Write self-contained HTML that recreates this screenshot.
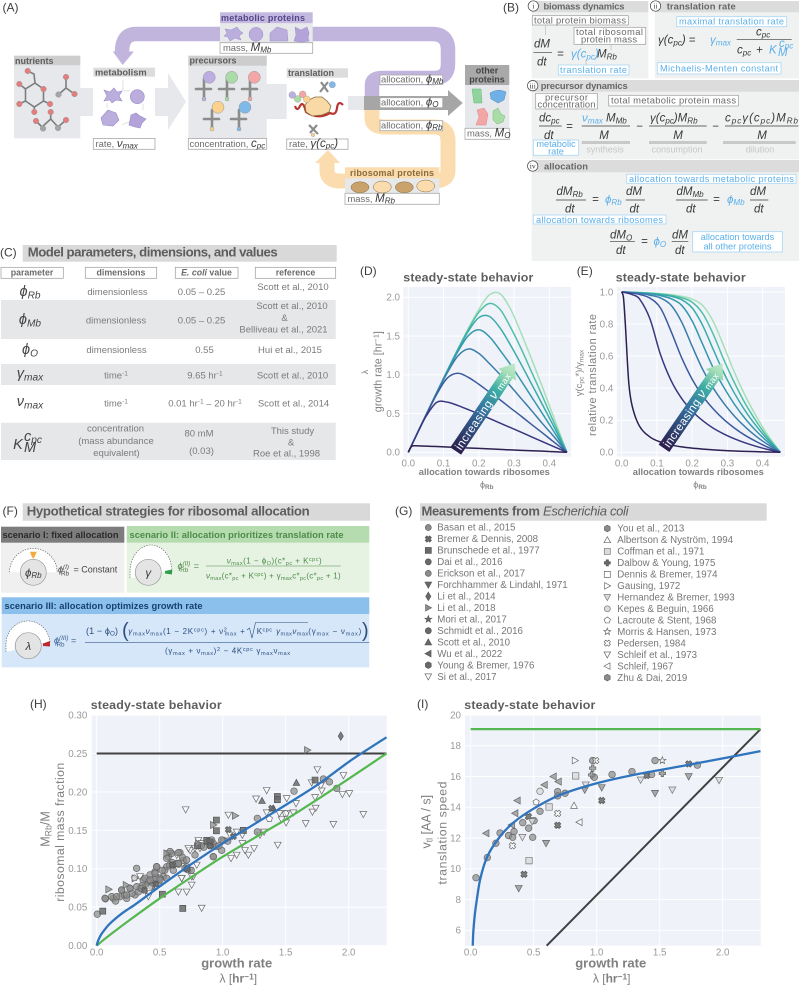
<!DOCTYPE html>
<html lang="en">
<head>
<meta charset="utf-8">
<title>Ribosomal allocation model figure</title>
<style>
html,body{margin:0;padding:0;background:#fff;width:799px;height:985px;overflow:hidden}
svg{display:block;font-family:"Liberation Sans",sans-serif}
.hd{font-weight:bold;fill:#5d5d5d}
.sec{font-weight:bold;font-size:9.4px;fill:#666}
.lab{font-size:9.4px;fill:#6b6b6b}
.blu{font-size:9.2px;fill:#5bb0ea}
.box{fill:#fff;stroke:#9c9c9c;stroke-width:.7}
.bbox{fill:#fff;stroke:#a9d6f4;stroke-width:.8}
.gbox{fill:#fff;stroke:#a8a8a8;stroke-width:.8}
.m{font-style:italic;fill:#3a3a3a;font-size:11.5px}
.mb{font-style:italic;fill:#5bb0ea;font-size:11.5px}
.s{font-size:70%}
.row{font-size:9.5px;fill:#7b7b7b;text-anchor:middle}
.par{font-style:italic;fill:#444;font-size:14.5px;text-anchor:middle}
.colh{font-size:8.8px;font-weight:bold;fill:#6b6b6b;text-anchor:middle}
.pl{font-size:12px;fill:#3d3d3d}
.fbar{stroke:#3a3a3a;stroke-width:.7}
.tick{font-size:9.8px;fill:#9a9a9a}
.ax{font-weight:bold;fill:#808080}
</style>
</head>
<body>
<svg id="figure" xmlns="http://www.w3.org/2000/svg" width="799" height="985" viewBox="0 0 799 985">
<defs>
<linearGradient id="arrowGradD" gradientUnits="userSpaceOnUse" x1="0" y1="0" x2="106" y2="0"><stop offset="0" stop-color="#2c1d4d"/><stop offset=".45" stop-color="#33709f"/><stop offset=".7" stop-color="#3fafa5"/><stop offset=".88" stop-color="#a6dfb8"/><stop offset="1" stop-color="#c3ead0"/></linearGradient>
</defs>

<!-- PANEL A -->
<g>
<text class="pl" x="2.5" y="11.5">(A)</text>
<path d="M80 88H93V116H80Z M155 88H168V73L186 101.7L168 130V116H155Z M266 84H287V119H266Z M348 96H372V110H348Z" fill="#e6e8eb"/>
<path d="M372 100V85Q372 78 382 78H434Q448 78 448 64V50Q448 34 432 34H136Q122 34 122 52" fill="none" stroke="#c1b5de" stroke-width="14.5"/>
<path d="M112.7 51.5H134L122.7 65Z" fill="#c1b5de"/>
<path d="M372 110V118Q372 127 385 127H434Q448 127 448 141V170Q448 181 434 181H340Q327 181 327 170V163" fill="none" stroke="#fbdcae" stroke-width="15"/>
<path d="M315 163H340L328 150Z" fill="#fbdcae"/>
<path d="M364 96H448V90L462.7 103L448 116V110H364Z" fill="#a6a6a6"/>

<g>
<rect x="14" y="55.7" width="66.3" height="82.6" fill="#e6e8eb"/><rect x="14" y="55.7" width="66.3" height="9.5" fill="#cdcdcd"/>
<text class="hd" x="15" y="64" font-size="9">nutrients</text>
<g fill="none" stroke="#7d7d7d" stroke-width="1.6">
<path d="M27.7 71L34 74L35 83L43.5 89L43.5 101L34.3 107L25.5 101L25.5 89L35 83"/><path d="M25.5 89L19.3 84M25.5 101L19.3 104M43.5 101L50 104M34.3 107V112"/>
<path d="M66 77V88L58.5 94.5M66 88L74.5 94"/><path d="M36 121L42 127L50.7 119L58 127L66 120M42 127L43 128.5M50.7 119V112"/>
</g>
<g fill="#e77c7c" stroke="#999" stroke-width=".5">
<circle cx="27.7" cy="71" r="2.8"/><circle cx="19.3" cy="84" r="2.8"/><circle cx="43.5" cy="89" r="2.8"/><circle cx="19.3" cy="104" r="2.8"/><circle cx="34.3" cy="112" r="2.8"/><circle cx="50" cy="104" r="2.8"/><circle cx="66" cy="77" r="2.8"/><circle cx="74.5" cy="94" r="2.8"/><circle cx="36" cy="121" r="2.8"/><circle cx="50.7" cy="112" r="2.8"/><circle cx="66" cy="120" r="2.8"/>
<circle cx="58.5" cy="94.5" r="2.8" fill="#a5a5a5"/><circle cx="43" cy="128.5" r="2.8" fill="#a5a5a5"/><circle cx="58" cy="128" r="2.8" fill="#a5a5a5"/>
</g>
</g>

<g>
<rect x="93.3" y="67.7" width="61.7" height="70.6" fill="#fff"/><rect x="93.3" y="67.7" width="61.7" height="9" fill="#dcdcdc"/>
<text class="hd" x="95" y="75.5" font-size="9.3">metabolism</text>
<g fill="none" stroke="#e2e2e2" stroke-width="1"><path d="M123 80V90Q125 92 130 90M143 104V110M122 125Q126 122 132 122M107 108V103"/></g>
<path d="M104 90L110 92L114 88L117 92L122 91L119 96L122 101L116 100L112 103L110 100L104 101L107 96Z" fill="#bbaedd" stroke="#9a8ccb" stroke-width=".6"/>
<circle cx="137.3" cy="96.7" r="7" fill="#bbaedd" stroke="#9a8ccb" stroke-width=".6"/>
<path d="M101 118L108 110L116 113L119 120L113 126L103 125Z" fill="#bbaedd" stroke="#9a8ccb" stroke-width=".6"/>
<path d="M131 115L136 113L140 116L146 119L142 123L140 128L135 127L129 125L130 120Z" fill="#b3a3d8" stroke="#9a8ccb" stroke-width=".6"/>
<rect class="gbox" x="93.3" y="138.5" width="61.7" height="10.8"/>
<text class="lab" x="95.5" y="147">rate, <tspan class="m" font-size="10">ν<tspan class="s" dy="1.5">max</tspan></tspan></text>
</g>

<g>
<rect x="188.3" y="55.7" width="78.4" height="82.6" fill="#e6e8eb"/><rect x="188.3" y="55.7" width="78.4" height="10" fill="#cdcdcd"/>
<text class="hd" x="189.5" y="63.5" font-size="9">precursors</text>
<g stroke="#8c8c8c" stroke-width="2.6" stroke-linecap="round" fill="none">
<path d="M204 79V98M196 89H211"/><path d="M227 79V98M219 89H234"/><path d="M250 79V98M242 89H257"/><path d="M212 110V128M204 119H219"/><path d="M239 110V128M231 119H246"/>
</g>
<g stroke="#999" stroke-width=".5">
<circle cx="209.3" cy="77.3" r="6" fill="#bcaee0"/><circle cx="231.7" cy="77.3" r="6" fill="#a9dca6"/><circle cx="254.3" cy="77.3" r="6" fill="#f2a6a6"/><circle cx="218" cy="107.3" r="6" fill="#fbd18e"/><circle cx="245" cy="107.3" r="6" fill="#7fb9ea"/>
<circle cx="204" cy="99" r="2" fill="#bcaee0"/><circle cx="227" cy="99" r="2" fill="#a9dca6"/><circle cx="250" cy="99" r="2" fill="#f2a6a6"/><circle cx="212" cy="129" r="2" fill="#fbd18e"/><circle cx="239" cy="129" r="2" fill="#7fb9ea"/>
</g>
<rect class="gbox" x="188.3" y="138.5" width="78.4" height="10.8"/>
<text class="lab" x="189.5" y="147">concentration, <tspan class="m" font-size="9.5">c<tspan class="s" dy="1.5">pc</tspan></tspan></text>
</g>

<g>
<rect x="286.7" y="68.3" width="61.3" height="70" fill="#fff"/><rect x="286.7" y="68.3" width="61.3" height="9.4" fill="#dcdcdc"/>
<text class="hd" x="288" y="76" font-size="9">translation</text>
<path d="M295 106Q297 112 300 106T306 112Q318 120 330 113Q336 116 337 108T343 105" fill="none" stroke="#b8352f" stroke-width="2.2"/>
<path d="M305 105L309 100L315 97L322 97L327 101L331 106L329 112L322 115L312 116L306 112Z" fill="#f9d9a6" stroke="#8a6d3b" stroke-width=".8"/>
<g fill="none" stroke="#8c8c8c" stroke-width="2.2"><path d="M321 82L328 92M328 82L320 92"/><path d="M309 125L318 134M317 125L310 133"/></g>
<g stroke="#999" stroke-width=".4"><circle cx="292.3" cy="95" r="3.4" fill="#bcaee0"/><circle cx="297.7" cy="99" r="3.4" fill="#a9dca6"/><circle cx="302.7" cy="94.3" r="3.4" fill="#f2a6a6"/><circle cx="306.7" cy="99.3" r="3.4" fill="#fbd18e"/><circle cx="332.3" cy="84.7" r="3.2" fill="#7fb9ea"/><circle cx="313" cy="135" r="1.8" fill="#fbd18e"/></g>
<rect class="gbox" x="286.7" y="139" width="61.3" height="10.3"/>
<text class="lab" x="289" y="147">rate, <tspan class="m" font-size="9.5">γ(c<tspan class="s" dy="1.5">pc</tspan><tspan dy="-1.5">)</tspan></tspan></text>
</g>

<g>
<rect x="220" y="12.3" width="92.7" height="11" fill="#c3b8df"/><rect x="220" y="23.3" width="92.7" height="19.4" fill="#e7e8ea"/>
<text x="221" y="21" font-size="9" font-weight="bold" fill="#56468a" textLength="84">metabolic proteins</text>
<path d="M225 29L231 30L237 27L240 31L243 33L239 36L241 40L235 38L230 41L228 37L224 36L227 33Z" fill="#bbaedd" stroke="#9a8ccb" stroke-width=".5"/>
<circle cx="256" cy="34.3" r="7" fill="#bbaedd" stroke="#9a8ccb" stroke-width=".5"/>
<path d="M270 41V33L277 27L287 30L288 41Z" fill="#bbaedd" stroke="#9a8ccb" stroke-width=".5"/>
<path d="M295 27L301 30L307 27L309 33L308 38L309 41L301 42L294 41L296 35Z" fill="#b3a3d8" stroke="#9a8ccb" stroke-width=".5"/>
<rect class="gbox" x="220" y="42.7" width="92.7" height="10.6"/>
<text class="lab" x="223" y="51">mass, <tspan class="m" font-size="9.5">M<tspan class="s" dy="1.5">Mb</tspan></tspan></text>
</g>

<g>
<rect x="345" y="167.3" width="94.3" height="11" fill="#fbdcae"/><rect x="345" y="178.3" width="94.3" height="15" fill="#e7e8ea"/>
<text x="350" y="176" font-size="9" font-weight="bold" fill="#8a6d3b" textLength="84">ribosomal proteins</text>
<ellipse cx="360" cy="187.3" rx="9" ry="5.5" fill="#c9a36b" stroke="#8a6d3b" stroke-width=".5"/>
<ellipse cx="382.3" cy="187" rx="9" ry="6" fill="#fbdcae" stroke="#8a6d3b" stroke-width=".5"/>
<ellipse cx="404.3" cy="187.3" rx="9" ry="5.5" fill="#c9a36b" stroke="#8a6d3b" stroke-width=".5"/>
<ellipse cx="425.7" cy="186" rx="9" ry="6" fill="#fbdcae" stroke="#8a6d3b" stroke-width=".5"/>
<rect class="gbox" x="345" y="193.3" width="94.3" height="11"/>
<text class="lab" x="347.5" y="202">mass, <tspan class="m" font-size="9.5">M<tspan class="s" dy="1.5">Rb</tspan></tspan></text>
</g>

<g>
<rect x="465" y="65" width="44.3" height="20" fill="#a9a9a9"/><rect x="465" y="85" width="44.3" height="43" fill="#e6e8eb"/>
<text x="487" y="73.5" font-size="9" font-weight="bold" fill="#444" text-anchor="middle">other</text>
<text x="487" y="82.5" font-size="9" font-weight="bold" fill="#444" text-anchor="middle">proteins</text>
<path d="M472 89H481L482 103H474Z" fill="#8fd49c" stroke="#6bb87a" stroke-width=".5"/>
<path d="M490 93Q498 88 506 92L504 100L498 103L491 99Z" fill="#6fb1e6" stroke="#4f8fc4" stroke-width=".5"/>
<path d="M477 110L484 108L488 114L486 125H476L479 117Z" fill="#f2a6a6" stroke="#d88" stroke-width=".5"/>
<path d="M493 111L498 108L501 114L505 116L503 122L497 124L493 120Z" fill="#a9dca6" stroke="#7cbb7a" stroke-width=".5"/>
<rect class="gbox" x="465" y="128.3" width="44.3" height="11"/>
<text class="lab" x="467" y="136.7">mass, <tspan class="m" font-size="9.5">M<tspan class="s" dy="1.5">O</tspan></tspan></text>
</g>

<g>
<rect class="gbox" x="380" y="75" width="62.7" height="9.4"/><text class="lab" x="381" y="82.5">allocation, <tspan class="m" font-size="9">ϕ<tspan class="s" dy="1.5">Mb</tspan></tspan></text>
<rect class="gbox" x="380" y="97.7" width="62.7" height="10"/><text class="lab" x="381" y="105.5">allocation, <tspan class="m" font-size="9">ϕ<tspan class="s" dy="1.5">O</tspan></tspan></text>
<rect class="gbox" x="380" y="120.7" width="62.7" height="10"/><text class="lab" x="381" y="128.5">allocation, <tspan class="m" font-size="9">ϕ<tspan class="s" dy="1.5">Rb</tspan></tspan></text>
</g>
</g>

<!-- PANEL B -->
<g>
<text class="pl" x="503" y="11.5">(B)</text>
<g fill="#f0f1f1">
<rect x="531.7" y="1" width="116.6" height="77.3"/><rect x="655" y="1" width="144" height="77.3"/><rect x="531.7" y="80" width="267.3" height="79.3"/><rect x="531.7" y="160" width="267.3" height="101"/>
</g>
<g fill="#dcdcdc">
<rect x="531.7" y="1" width="116.6" height="11.3"/><rect x="655" y="1" width="144" height="11.3"/><rect x="531.7" y="80" width="267.3" height="11.7"/><rect x="531.7" y="160" width="267.3" height="12.3"/>
</g>
<g fill="#fff" stroke="#444" stroke-width=".7">
<circle cx="533.3" cy="6" r="5.2"/><circle cx="655.5" cy="6" r="5.2"/><circle cx="532.7" cy="85.7" r="5.2"/><circle cx="532.7" cy="166" r="5.2"/>
</g>
<g font-size="7.5" fill="#333" text-anchor="middle" font-family="Liberation Serif, serif">
<text x="533.3" y="8.6">i</text><text x="655.5" y="8.6">ii</text><text x="532.7" y="88.3">iii</text><text x="532.7" y="168.6">iv</text>
</g>
<text class="sec" x="543.5" y="9.5" textLength="81">biomass dynamics</text>
<text class="sec" x="666.7" y="9.5" textLength="69">translation rate</text>
<text class="sec" x="540.7" y="89" textLength="87">precursor dynamics</text>
<text class="sec" x="544" y="169.5" textLength="44">allocation</text>

<g>
<rect class="box" x="532.3" y="15.7" width="96" height="9.3"/><text class="lab" x="534" y="23.4" textLength="92">total protein biomass</text>
<rect class="box" x="574" y="27.3" width="71.7" height="17"/><text class="lab" x="576" y="35" textLength="67">total ribosomal</text><text class="lab" x="581" y="42.5" textLength="56">protein mass</text>
<path d="M545.5 25V35M611 44V50M586 60V66" stroke="#bdbdbd" stroke-width=".7" fill="none"/>
<text class="m" x="534" y="47.5" font-size="12">dM</text><line class="fbar" x1="533.5" y1="52.7" x2="552" y2="52.7"/><text class="m" x="537" y="65.5" font-size="12">dt</text>
<text class="m" x="557" y="57.5" font-size="12" font-style="normal">=</text>
<text class="mb" x="571" y="57.5" font-size="12">γ(c<tspan class="s" dy="2">pc</tspan><tspan dy="-2">)</tspan></text>
<text class="m" x="597" y="57.5" font-size="12">M<tspan class="s" dy="2">Rb</tspan></text>
<rect class="bbox" x="558.3" y="65" width="70.7" height="10"/><text class="blu" x="560" y="73" textLength="67">translation rate</text>
</g>

<g>
<rect class="bbox" x="676.7" y="16.7" width="110" height="10"/><text class="blu" x="679" y="24.7" textLength="105">maximal translation rate</text>
<text class="m" x="658" y="43.5" font-size="12.5">γ(c<tspan class="s" dy="2">pc</tspan><tspan dy="-2">)</tspan> <tspan font-style="normal">=</tspan></text>
<text class="mb" x="710" y="43.5" font-size="12">γ<tspan class="s" dy="2">max</tspan></text>
<text class="m" x="756" y="35.5" font-size="12">c<tspan class="s" dy="2">pc</tspan></text>
<line class="fbar" x1="736.7" y1="39.3" x2="791.7" y2="39.3"/>
<text class="m" x="737" y="53.5" font-size="12">c<tspan class="s" dy="2">pc</tspan></text>
<text class="m" x="756" y="53.5" font-size="12" font-style="normal">+</text>
<text class="mb" x="769" y="53.5" font-size="12">K</text>
<text class="mb" x="779" y="47" font-size="7.5">c<tspan class="s" dy="1.5">pc</tspan></text>
<text class="mb" x="778" y="56" font-size="8">M</text>
<rect class="bbox" x="657.3" y="62.7" width="123.7" height="11.3"/><text class="blu" x="660" y="71.5" textLength="118">Michaelis-Menten constant</text>
</g>

<g>
<rect class="box" x="535.7" y="93.3" width="61.6" height="15.7"/><text class="lab" x="545" y="100.3" textLength="43">precursor</text><text class="lab" x="537.5" y="107.5" textLength="58">concentration</text>
<rect class="box" x="608.7" y="95.3" width="129.6" height="10.7"/><text class="lab" x="611" y="103.7" textLength="125">total metabolic protein mass</text>
<text class="m" x="539" y="121.7" font-size="12">dc<tspan class="s" dy="2">pc</tspan></text><line class="fbar" x1="539" y1="126" x2="561.7" y2="126"/><text class="m" x="544" y="139" font-size="12">dt</text>
<text class="m" x="566" y="130" font-size="12" font-style="normal">=</text>
<text class="mb" x="582" y="121.7" font-size="12">ν<tspan class="s" dy="2">max</tspan></text>
<text class="m" x="606" y="121.7" font-size="12">M<tspan class="s" dy="2">Mb</tspan></text>
<line class="fbar" x1="581.7" y1="126" x2="630" y2="126"/><text class="m" x="604" y="139" font-size="12" text-anchor="middle">M</text>
<text class="m" x="636" y="130" font-size="12" font-style="normal">−</text>
<text class="m" x="650" y="121.7" font-size="12">γ(c<tspan class="s" dy="2">pc</tspan><tspan dy="-2">)M</tspan><tspan class="s" dy="2">Rb</tspan></text>
<line class="fbar" x1="649" y1="126" x2="706.7" y2="126"/><text class="m" x="678" y="139" font-size="12" text-anchor="middle">M</text>
<text class="m" x="712" y="130" font-size="12" font-style="normal">−</text>
<text class="m" x="725" y="121.7" font-size="12" textLength="73">c<tspan class="s" dy="2">pc</tspan><tspan dy="-2">γ(c</tspan><tspan class="s" dy="2">pc</tspan><tspan dy="-2">)M</tspan><tspan class="s" dy="2">Rb</tspan></text>
<line class="fbar" x1="725" y1="126" x2="798.3" y2="126"/><text class="m" x="762" y="139" font-size="12" text-anchor="middle">M</text>
<path d="M581.7 142.5H630M649 142.5H706.7M723 142.5H795.7" stroke="#c8c8c8" stroke-width="3"/>
<g font-size="9" fill="#c6c6c6" text-anchor="middle"><text x="605" y="152.7">synthesis</text><text x="677" y="152.7">consumption</text><text x="760" y="152.7">dilution</text></g>
<rect class="bbox" x="533.3" y="140" width="45.4" height="15.3"/><text class="blu" x="556" y="147" text-anchor="middle">metabolic</text><text class="blu" x="556" y="154.3" text-anchor="middle">rate</text>
</g>

<g>
<rect class="bbox" x="626.7" y="174.3" width="169.3" height="9"/><text class="blu" x="629" y="182" textLength="165">allocation towards metabolic proteins</text>
<text class="m" x="556.5" y="195" font-size="12">dM<tspan class="s" dy="2">Rb</tspan></text><line class="fbar" x1="556" y1="200" x2="586" y2="200"/><text class="m" x="565" y="212.3" font-size="12">dt</text>
<text class="m" x="592" y="203" font-size="12" font-style="normal">=</text>
<text class="mb" x="605" y="203" font-size="12">ϕ<tspan class="s" dy="2">Rb</tspan></text>
<text class="m" x="626" y="195" font-size="12">dM</text><line class="fbar" x1="625.7" y1="200" x2="645" y2="200"/><text class="m" x="629.5" y="212.3" font-size="12">dt</text>
<text class="m" x="676.5" y="195" font-size="12">dM<tspan class="s" dy="2">Mb</tspan></text><line class="fbar" x1="676" y1="200" x2="707.7" y2="200"/><text class="m" x="686" y="212.3" font-size="12">dt</text>
<text class="m" x="713" y="203" font-size="12" font-style="normal">=</text>
<text class="mb" x="727" y="203" font-size="12">ϕ<tspan class="s" dy="2">Mb</tspan></text>
<text class="m" x="750" y="195" font-size="12">dM</text><line class="fbar" x1="750" y1="200" x2="768.3" y2="200"/><text class="m" x="754" y="212.3" font-size="12">dt</text>
<rect class="bbox" x="533.3" y="215" width="132.7" height="9"/><text class="blu" x="536" y="222.8" textLength="127">allocation towards ribosomes</text>
<text class="m" x="610" y="238.3" font-size="12">dM<tspan class="s" dy="2">O</tspan></text><line class="fbar" x1="610" y1="241.7" x2="635" y2="241.7"/><text class="m" x="616" y="254" font-size="12">dt</text>
<text class="m" x="641" y="245" font-size="12" font-style="normal">=</text>
<text class="mb" x="653.5" y="245" font-size="12">ϕ<tspan class="s" dy="2">O</tspan></text>
<text class="m" x="672" y="238.3" font-size="12">dM</text><line class="fbar" x1="671.7" y1="241.7" x2="688.3" y2="241.7"/><text class="m" x="675" y="254" font-size="12">dt</text>
<rect class="bbox" x="692.7" y="231.7" width="89.6" height="20.3"/><text class="blu" x="737.5" y="240" text-anchor="middle">allocation towards</text><text class="blu" x="737.5" y="249.5" text-anchor="middle">all other proteins</text>
</g>
</g>

<!-- PANEL C -->
<g>
<text class="pl" x="0" y="256.7">(C)</text>
<rect x="22.7" y="245" width="314" height="16.7" fill="#d9d9d9"/>
<text class="hd" x="27.7" y="256.7" font-size="13.2" textLength="250">Model parameters, dimensions, and values</text>
<g fill="#e6e7e8"><rect x="1" y="300" width="334.7" height="39"/><rect x="1" y="364" width="334.7" height="21"/><rect x="1" y="422.7" width="334.7" height="37.3"/></g>
<g>
<rect class="box" x="1" y="267.3" width="62.3" height="11"/><text class="colh" x="32" y="275.5">parameter</text>
<rect class="box" x="85.3" y="267.3" width="71.4" height="11"/><text class="colh" x="121" y="275.5">dimensions</text>
<rect class="box" x="175.3" y="267.3" width="62.7" height="11"/><text class="colh" x="206.5" y="275.5"><tspan font-style="italic">E. coli</tspan> value</text>
<rect class="box" x="255.3" y="267.3" width="80.4" height="11"/><text class="colh" x="295.5" y="275.5">reference</text>
</g>
<g>
<text class="par" x="30" y="296">ϕ<tspan class="s" dy="2.5">Rb</tspan></text>
<text class="par" x="30" y="324">ϕ<tspan class="s" dy="2.5">Mb</tspan></text>
<text class="par" x="30" y="354">ϕ<tspan class="s" dy="2.5">O</tspan></text>
<text class="par" x="30" y="378">γ<tspan class="s" dy="2.5">max</tspan></text>
<text class="par" x="30" y="406">ν<tspan class="s" dy="2.5">max</tspan></text>
<text class="par" x="18" y="449" font-size="16">K</text><text class="par" x="33" y="441" font-size="10">c<tspan class="s" dy="2">pc</tspan></text><text class="par" x="30" y="452" font-size="10">M</text>
</g>
<g>
<text class="row" x="117.5" y="295">dimensionless</text><text class="row" x="116" y="323.5">dimensionless</text><text class="row" x="116.5" y="353">dimensionless</text>
<text class="row" x="116" y="378.5">time<tspan class="s" dy="-3">-1</tspan></text><text class="row" x="116" y="406.5">time<tspan class="s" dy="-3">-1</tspan></text>
<text class="row" x="115.5" y="431.7">concentration</text><text class="row" x="116" y="444">(mass abundance</text><text class="row" x="116.5" y="456">equivalent)</text>
</g>
<g>
<text class="row" x="201.5" y="295">0.05 – 0.25</text><text class="row" x="201.5" y="323.5">0.05 – 0.25</text><text class="row" x="204.5" y="353">0.55</text>
<text class="row" x="205" y="378.5">9.65 hr<tspan class="s" dy="-3">-1</tspan></text>
<text class="row" x="205" y="406.5">0.01 hr<tspan class="s" dy="-3">-1</tspan><tspan dy="3"> – 20 hr</tspan><tspan class="s" dy="-3">-1</tspan></text>
<text class="row" x="199" y="436.7">80 mM</text><text class="row" x="201.5" y="454">(0.03)</text>
</g>
<g>
<text class="row" x="293" y="290">Scott et al., 2010</text><text class="row" x="292" y="309">Scott et al., 2010</text><text class="row" x="284.5" y="321">&amp;</text><text class="row" x="283.5" y="332.7">Belliveau et al., 2021</text>
<text class="row" x="290" y="353">Hui et al., 2015</text><text class="row" x="292.5" y="378.5">Scott et al., 2010</text><text class="row" x="293.5" y="406.5">Scott et al., 2014</text>
<text class="row" x="292.5" y="434">This study</text><text class="row" x="291" y="445.7">&amp;</text><text class="row" x="286.5" y="456.7">Roe et al., 1998</text>
</g>
</g>

<!-- PANEL D / E -->
<g>
<text class="pl" x="360" y="275">(D)</text>
<text class="hd" x="403.3" y="281.7" font-size="12.4" textLength="130">steady-state behavior</text>
<g id="plotD"></g>
<g transform="translate(455.7,451) rotate(-56)">
<polygon points="0,-6.5 92,-6.5 92,-10.5 106,0 92,10.5 92,6.5 0,6.5" fill="url(#arrowGradD)"/>
<text x="3" y="4.2" font-size="11.5" fill="#fff" textLength="90">increasing <tspan font-style="italic" font-size="13">ν</tspan> <tspan font-size="9">max</tspan></text>
</g>
<text class="ax" x="484.3" y="475" font-size="9.3" text-anchor="middle" textLength="131">allocation towards ribosomes</text>
<text x="486.7" y="487.3" font-size="9" fill="#808080" text-anchor="middle">ϕ<tspan class="s" dy="1.5" font-weight="bold">Rb</tspan></text>
<text class="ax" transform="translate(381.7,371.7) rotate(-90)" font-size="10.8" text-anchor="middle" style="font-weight:normal">growth rate [hr<tspan class="s" dy="-3">−1</tspan><tspan dy="3">]</tspan></text>
<text transform="translate(368,372) rotate(-90)" font-size="9" fill="#808080" text-anchor="middle">λ</text>
</g>
<g>
<text class="pl" x="576.7" y="275">(E)</text>
<text class="hd" x="615.7" y="281.7" font-size="12.4" textLength="130">steady-state behavior</text>
<g id="plotE"></g>
<g transform="translate(664,448.3) rotate(-55.4)">
<polygon points="0,-6.5 89,-6.5 89,-10.5 103,0 89,10.5 89,6.5 0,6.5" fill="url(#arrowGradD)"/>
<text x="3" y="4.2" font-size="11.5" fill="#fff" textLength="88">increasing <tspan font-style="italic" font-size="13">ν</tspan> <tspan font-size="9">max</tspan></text>
</g>
<text class="ax" x="698.3" y="475" font-size="9.3" text-anchor="middle" textLength="131">allocation towards ribosomes</text>
<text x="700" y="487.3" font-size="9" fill="#808080" text-anchor="middle">ϕ<tspan class="s" dy="1.5" font-weight="bold">Rb</tspan></text>
<text class="ax" transform="translate(596,375) rotate(-90)" font-size="11" text-anchor="middle" textLength="122" style="font-weight:normal">relative translation rate</text>
<text transform="translate(582,373) rotate(-90)" font-size="9.5" fill="#808080" text-anchor="middle">γ(c<tspan class="s" dy="1.5">pc</tspan><tspan dy="-1.5">*)/γ</tspan><tspan class="s" dy="1.5">max</tspan></text>
</g>

<!-- PANEL F -->
<g>
<text class="pl" x="2.5" y="515">(F)</text>
<rect x="22.7" y="503.3" width="347.3" height="17.4" fill="#d9d9d9"/>
<text class="hd" x="26.7" y="515.7" font-size="13.2" textLength="283">Hypothetical strategies for ribosomal allocation</text>
<g>
<rect x="1" y="542.7" width="123.3" height="50" fill="#f0f0f0"/><rect x="1" y="526.7" width="123.3" height="16" fill="#7d7d7d"/>
<text x="2.5" y="538" font-size="9.3" font-weight="bold" fill="#2a2a2a" textLength="116">scenario I: fixed allocation</text>
<path d="M9.5 572.3A23.8 23.8 0 0 1 57.1 572.3H46.3A13 13 0 0 0 20.3 572.3Z" fill="#fff"/><path d="M9.5 572.3A23.8 23.8 0 0 1 57.1 572.3" fill="none" stroke="#555" stroke-width=".6" stroke-dasharray="1.4 1.2"/>
<circle cx="33.3" cy="572.3" r="13" fill="#e4e4e4" stroke="#9a9a9a" stroke-width=".7"/>
<path d="M30 551.7H36.7L35 556L33.3 559L31.5 556Z" fill="#f4ab3e"/>
<text class="m" x="33.3" y="576.5" text-anchor="middle" font-size="11">ϕ<tspan class="s" dy="1.5">Rb</tspan></text>
<text x="58" y="572.5" font-size="9" fill="#444"><tspan font-style="italic">ϕ</tspan><tspan class="s" dy="-3.5" font-style="italic">(I)</tspan><tspan class="s" dx="-8" dy="6.5">Rb</tspan><tspan dy="-3" dx="2"> = Constant</tspan></text>
</g>
<g>
<rect x="126.7" y="542.7" width="242.6" height="50" fill="#e6f3e2"/><rect x="126.7" y="526" width="242.6" height="16.7" fill="#b5dcae"/>
<text x="129.5" y="538" font-size="9.3" font-weight="bold" fill="#4e8a4a" textLength="214">scenario II: allocation prioritizes translation rate</text>
<path d="M130 578V572A18.5 23.8 0 0 1 172 572H161.3A13 13 0 0 0 135 578Z" fill="#fff"/><path d="M130 578V572A18.5 23.8 0 0 1 172 572" fill="none" stroke="#555" stroke-width=".6" stroke-dasharray="1.4 1.2"/>
<circle cx="148.3" cy="572.3" r="13" fill="#e4e4e4" stroke="#9a9a9a" stroke-width=".7"/>
<path d="M165 571L172 569.5V574.5L165 573.5Z" fill="#2f9e44"/>
<text class="m" x="148.3" y="576.5" text-anchor="middle" font-size="13">γ</text>
<text x="177.5" y="569" font-size="9" fill="#4e8a4a" font-style="italic">ϕ<tspan class="s" dy="-3.5">(II)</tspan><tspan class="s" dx="-10" dy="6.5" font-style="normal">Rb</tspan><tspan dy="-3" dx="3" font-style="normal"> =</tspan></text>
<line x1="206" y1="566" x2="340.7" y2="566" stroke="#4e8a4a" stroke-width=".6"/>
<text x="226.7" y="563.3" font-size="8" fill="#4e8a4a" textLength="95"><tspan font-style="italic">ν</tspan><tspan class="s" dy="1.5">max</tspan><tspan dy="-1.5">(1 − ϕ</tspan><tspan class="s" dy="1.5">O</tspan><tspan dy="-1.5">)(c*</tspan><tspan class="s" dy="1.5">pc</tspan><tspan dy="-1.5"> + K</tspan><tspan class="s" dy="-2.5">cpc</tspan><tspan dy="2.5">)</tspan></text>
<text x="206" y="578.3" font-size="8" fill="#4e8a4a" textLength="134.7"><tspan font-style="italic">ν</tspan><tspan class="s" dy="1.5">max</tspan><tspan dy="-1.5">(c*</tspan><tspan class="s" dy="1.5">pc</tspan><tspan dy="-1.5"> + K</tspan><tspan class="s" dy="-2.5">cpc</tspan><tspan dy="2.5">) + γ</tspan><tspan class="s" dy="1.5">max</tspan><tspan dy="-1.5">c*</tspan><tspan class="s" dy="1.5">pc</tspan><tspan dy="-1.5">(c*</tspan><tspan class="s" dy="1.5">pc</tspan><tspan dy="-1.5"> + 1)</tspan></text>
</g>
<g>
<rect x="1.7" y="614" width="367.6" height="53.3" fill="#d5e7f8"/><rect x="1.7" y="597.3" width="367.6" height="16.7" fill="#8cc0ec"/>
<text x="4.5" y="609" font-size="9.3" font-weight="bold" fill="#17406e" textLength="198">scenario III: allocation optimizes growth rate</text>
<path d="M6 652V645A22 23 0 0 1 50 643H41A13 13 0 0 0 15 650Z" fill="#fff"/><path d="M6 652V645A22 23 0 0 1 50 643" fill="none" stroke="#555" stroke-width=".6" stroke-dasharray="1.4 1.2"/>
<circle cx="28.3" cy="645.7" r="13" fill="#e4e4e4" stroke="#9a9a9a" stroke-width=".7"/>
<path d="M43 643.5L50 641V646.5L43 646Z" fill="#c0292b"/>
<text class="m" x="28.3" y="650" text-anchor="middle" font-size="13">λ</text>
<text x="54" y="643.3" font-size="9" fill="#3a5d8f" font-style="italic">ϕ<tspan class="s" dy="-3.5">(III)</tspan><tspan class="s" dx="-12" dy="6.5" font-style="normal">Rb</tspan><tspan dy="-3" dx="4" font-style="normal"> =</tspan></text>
<line x1="85" y1="642.7" x2="369.3" y2="642.7" stroke="#3a5d8f" stroke-width=".6"/>
<g font-size="8" fill="#2f4f80">
<text x="86" y="634" font-size="9" textLength="32">(1 − ϕ<tspan class="s" dy="1.5">O</tspan><tspan dy="-1.5">)</tspan></text>
<text x="122" y="637" font-size="20" font-weight="normal">(</text>
<text x="128.3" y="634" textLength="116.5"><tspan font-style="italic">γ</tspan><tspan class="s" dy="1.5">max</tspan><tspan dy="-1.5" font-style="italic">ν</tspan><tspan class="s" dy="1.5">max</tspan><tspan dy="-1.5">(1 − 2K</tspan><tspan class="s" dy="-2.5">cpc</tspan><tspan dy="2.5">) + ν</tspan><tspan class="s" dy="-2.5">2</tspan><tspan class="s" dy="4" dx="-3">max</tspan><tspan dy="-1.5"> +</tspan></text>
<path d="M247 630L249.5 628L252 638L255.5 622.5H308" fill="none" stroke="#2f4f80" stroke-width=".6"/>
<text x="256.7" y="634" textLength="51.5">K<tspan class="s" dy="-2.5">cpc</tspan><tspan dy="2.5" dx="1" font-style="italic"> γ</tspan><tspan class="s" dy="1.5">max</tspan><tspan dy="-1.5" font-style="italic">ν</tspan><tspan class="s" dy="1.5">max</tspan></text>
<text x="308.3" y="634" textLength="53">(γ<tspan class="s" dy="1.5">max</tspan><tspan dy="-1.5"> − ν</tspan><tspan class="s" dy="1.5">max</tspan><tspan dy="-1.5">)</tspan></text>
<text x="362" y="637" font-size="20">)</text>
<text x="165" y="653.3" textLength="125">(γ<tspan class="s" dy="1.5">max</tspan><tspan dy="-1.5"> + ν</tspan><tspan class="s" dy="1.5">max</tspan><tspan dy="-1.5">)</tspan><tspan class="s" dy="-2.5">2</tspan><tspan dy="2.5"> − 4K</tspan><tspan class="s" dy="-2.5">cpc</tspan><tspan dy="2.5"> γ</tspan><tspan class="s" dy="1.5">max</tspan><tspan dy="-1.5">ν</tspan><tspan class="s" dy="1.5">max</tspan></text>
</g>
</g>
</g>

<!-- PANEL G -->
<g>
<text class="pl" x="395" y="515">(G)</text>
<rect x="420" y="503.3" width="346.7" height="17.4" fill="#d9d9d9"/>
<text class="hd" x="421.5" y="515.7" font-size="13" textLength="207">Measurements from <tspan font-style="italic" font-weight="normal">Escherichia coli</tspan></text>
<g id="legendG"></g>
</g>

<!-- PANEL H -->
<g>
<text class="pl" x="30" y="708">(H)</text>
<text class="hd" x="90.7" y="709" font-size="12.4" textLength="131">steady-state behavior</text>
<g id="plotH"></g>
<text class="ax" x="236.7" y="967.3" font-size="13" text-anchor="middle" textLength="71">growth rate</text>
<text x="238.3" y="982.5" font-size="12" fill="#808080" text-anchor="middle">λ [<tspan font-weight="bold">hr<tspan class="s" dy="-3">−1</tspan></tspan><tspan dy="3">]</tspan></text>
<text class="ax" transform="translate(64,832.3) rotate(-90)" font-size="12.3" text-anchor="middle" textLength="139" style="font-weight:normal">ribosomal mass fraction</text>
<text transform="translate(49.3,829) rotate(-90)" font-size="12.5" fill="#808080" text-anchor="middle">M<tspan class="s" dy="2">Rb</tspan><tspan dy="-2">/M</tspan></text>
</g>

<!-- PANEL I -->
<g>
<text class="pl" x="417" y="708">(I)</text>
<text class="hd" x="464.3" y="709" font-size="12.4" textLength="131">steady-state behavior</text>
<g id="plotI"></g>
<text class="ax" x="610.7" y="967.3" font-size="13" text-anchor="middle" textLength="71">growth rate</text>
<text x="611.7" y="982.5" font-size="12" fill="#808080" text-anchor="middle">λ [<tspan font-weight="bold">hr<tspan class="s" dy="-3">−1</tspan></tspan><tspan dy="3">]</tspan></text>
<text class="ax" transform="translate(446.7,833) rotate(-90)" font-size="12.3" text-anchor="middle" textLength="103" style="font-weight:normal">translation speed</text>
<text transform="translate(430.7,821.7) rotate(-90)" font-size="12.5" fill="#808080" text-anchor="middle">v<tspan class="s" dy="2">tl</tspan><tspan dy="-2"> [AA / s]</tspan></text>
</g>
</svg>

<script>
// ---- Panels D & E data: allocation grid and one array per nu_max curve ----
const phiRb = [0,.005,.01,.02,.03,.05,.08,.11,.14,.17,.2,.23,.26,.29,.32,.35,.38,.41,.45];
const growth1 = [0,.046,.078,.084,.083,.08,.074,.068,.062,.056,.05,.044,.038,.031,.025,.02,.015,.008,0];
const growth2 = [0,.048,.096,.191,.285,.462,.643,.648,.605,.551,.496,.437,.377,.319,.26,.199,.139,.079,0];
const growth3 = [0,.048,.096,.192,.288,.475,.743,.955,1.02,.968,.878,.777,.678,.571,.467,.358,.253,.143,0];
const growth4 = [0,.048,.097,.192,.289,.478,.757,1.022,1.24,1.333,1.276,1.146,1.004,.854,.695,.537,.374,.218,0];
const growth5 = [0,.048,.097,.193,.29,.48,.763,1.037,1.294,1.504,1.581,1.492,1.318,1.131,.924,.713,.503,.289,0];
const growth6 = [0,.048,.097,.193,.29,.48,.765,1.045,1.315,1.561,1.737,1.754,1.606,1.383,1.137,.879,.62,.356,0];
const growth7 = [0,.048,.097,.193,.29,.48,.767,1.048,1.323,1.581,1.806,1.92,1.845,1.613,1.338,1.034,.73,.416,0];
const growth8 = [0,.048,.097,.193,.29,.481,.767,1.051,1.328,1.596,1.843,2.031,2.046,1.848,1.539,1.2,.848,.483,0];
const trans1 = [1,.965,.81,.435,.286,.165,.096,.064,.046,.034,.026,.02,.015,.011,.008,.006,.004,.002,0];
const trans2 = [1,.998,.996,.991,.984,.958,.833,.61,.448,.336,.257,.197,.15,.114,.084,.059,.038,.02,0];
const trans3 = [1,.999,.998,.996,.993,.985,.962,.9,.755,.59,.455,.35,.27,.204,.151,.106,.069,.036,0];
const trans4 = [1,1,.999,.997,.995,.991,.98,.963,.918,.813,.661,.516,.4,.305,.225,.159,.102,.055,0];
const trans5 = [1,1,1,.998,.997,.994,.988,.977,.958,.917,.819,.672,.525,.404,.299,.211,.137,.073,0];
const trans6 = [1,1,1,.999,.998,.995,.991,.984,.973,.952,.9,.79,.64,.494,.368,.26,.169,.09,0];
const trans7 = [1,1,1,.999,.998,.996,.993,.987,.979,.964,.936,.865,.735,.576,.433,.306,.199,.105,0];
const trans8 = [1,1,1,.999,.999,.997,.994,.99,.983,.973,.955,.915,.815,.66,.498,.355,.231,.122,0];
const phiTicks = [0,.1,.2,.3,.4];
const phiTickLabels = ['0.0','0.1','0.2','0.3','0.4'];
const growthTicks = [0,.5,1,1.5,2];
const growthTickLabels = ['0.0','0.5','1.0','1.5','2.0'];
const transTicks = [0,.2,.4,.6,.8,1];
const transTickLabels = ['0.0','0.2','0.4','0.6','0.8','1.0'];

// ---- Panel H data ----
const lamTicks = [0,.5,1,1.5,2];
const lamTickLabels = ['0.0','0.5','1.0','1.5','2.0'];
const fracTicks = [0,.05,.1,.15,.2,.25,.3];
const fracTickLabels = ['0.00','0.05','0.10','0.15','0.20','0.25','0.30'];
const fixedLam = [0,2.3];
const fixedFrac = [.25,.25];
const optimalLam = [0,.01,.03,.05,.1,.2,.3,.5,.75,1,1.25,1.5,1.75,2,2.1,2.3];
const optimalFrac = [0,.006,.013,.018,.028,.042,.053,.077,.106,.133,.158,.183,.209,.239,.25,.271];
const prioritizedLam = [0,.05,.1,.25,.5,.75,1,1.25,1.5,1.75,2,2.3];
const prioritizedFrac = [0,.007,.0135,.032,.0615,.089,.1157,.14,.164,.19,.217,.25];
const hOpenDownLam = [.706,.833,2.116,1.878,2.005,1.95,1.958,1.751,1.349,1.265,1.437,1.659,1.712,1.738,1.733,1.706,1.778,1.786,1.561,1.508,1.503,1.45,1.468,1.508,1.582,1.349,1.328,1.296,1.249,1.204,1.177,1.111,1.066,1.058,1.111,1.156,1.156,1.045,.82,.741,.807,.794,.767,.754,.714,.648,.675,.41,.344,.635,.569,.741,.727,.78,.833,.674,.754];
const hOpenDownFrac = [.177,.049,.171,.158,.198,.197,.2215,.229,.202,.191,.131,.159,.174,.179,.193,.212,.208,.2015,.173,.172,.16,.172,.164,.1915,.185,.173,.148,.144,.1266,.118,.124,.118,.1136,.144,.148,.144,.133,.17,.1266,.124,.137,.105,.09,.079,.07,.07,.0875,.064,.09,.118,.12,.098,.1266,.1266,.133,.0877,.09];
const hCircleLam = [.005,.069,.132,.185,.238,.198,.265,.317,.304,.344,.37,.41,.423,.463,.476,.45,.489,.529,.556,.569,.595,.661,.635,.688,.608,.714,.926,.926,.992,.952,1.005,1.275,1.275,1.566,1.799,1.847,1.905,.15,.22,.28,.33,.39,.44,.5,.54,.6,.65,.72,.78,.85,.9,.97,1.04,.36,.47,.52,.58,.68,.75,.83,.88,.066,.119,.158,.198,.238,.264,.317,.357,.383,.423,.463,.476,.436,.502,.555,.555,.582,.648,.608,.648,.714,.701,.925,.912,.992];
const hCircleFrac = [.041,.061,.0615,.0637,.0615,.0724,.0746,.1006,.066,.0746,.0854,.083,.092,.0962,.1027,.0854,.081,.09,.1027,.1157,.12,.121,.107,.111,.098,.1027,.1157,.133,.124,.129,.137,.1656,.148,.201,.2167,.213,.2046,.058,.066,.068,.07,.078,.078,.088,.098,.108,.106,.099,.118,.128,.13,.13,.136,.078,.088,.098,.105,.115,.098,.13,.135,.0616,.0638,.0638,.0725,.066,.0746,.0768,.0746,.0877,.0855,.0941,.1028,.0768,.0855,.0877,.1137,.1224,.121,.105,.1072,.1115,.1007,.1158,.1375,.1375];
const hSquareLam = [.048,.521,.683,.95,.95,.873,1.434,1.434,1.733,1.164,.8,.9];
const hSquareFrac = [.045,.067,.0485,.1634,.1495,.137,.194,.19,.2154,.15,.13,.135];
const hDiamondLam = [1.937];
const hDiamondFrac = [.2726];
const hRightLam = [.095,1.672,1.1,.926,.807,.556,.304,.233];
const hRightFrac = [.0733,.2544,.169,.157,.133,.12,.0875,.079];
const hUpLam = [1.585,1.312,1.402];
const hUpFrac = [.212,.1886,.1786];
const hCrossLam = [1.045,1.085,1.389,.9,.47,.38,.6,.72];
const hCrossFrac = [.151,.142,.1786,.13,.08,.072,.105,.1];
const hPentLam = [1.37,1.5,.3,.42];
const hPentFrac = [.165,.172,.088,.075];

// ---- Panel I data ----
const speedTicks = [6,8,10,12,14,16,18,20];
const speedTickLabels = ['6','8','10','12','14','16','18','20'];
const maxSpeedLam = [0,2.3];
const maxSpeedVal = [19.08,19.08];
const fixedSpeedLam = [.603,2.3];
const fixedSpeedVal = [5,19.08];
const optSpeedLam = [.016,.02,.03,.04,.074,.132,.233,.339,.497,.709,1,1.29,1.69,2.08,2.3];
const optSpeedVal = [5,5.8,6.8,7.5,9.27,10.8,12.1,13,13.9,14.8,15.56,16.1,16.7,17.3,17.65];
const iCircleLam = [.042,.132,.2,.233,.3,.333,.344,.413,.46,.492,.503,.55,.69,.69,.749,.968,.981,1.122,1.28,1.463,1.436,1.799];
const iCircleVal = [9.42,10.73,11.66,12.33,12.16,12.05,12.42,13,12.64,12.05,13.13,13.74,15.02,14.74,14.91,17.04,15.95,16.13,16.32,17.04,16.13,16.74];
const iOpenCircleLam = [.55];
const iOpenCircleVal = [15.04];
const iLeftLam = [.122,.325,.352,.37,.585,.656,.696];
const iLeftVal = [12.31,12.85,13.61,14.44,15.46,16,15.67];
const iOpenLeftLam = [.862];
const iOpenLeftVal = [13.03];
const iCrossLam = [.423,.69,1.04,1.397,1.73,.458];
const iCrossVal = [9.64,12.83,14.44,16.06,16.82,13.4];
const iOpenCrossLam = [.331,.69,.992];
const iOpenCrossVal = [11.5,13.6,17.04];
const iSquareLam = [.463,.622,.833];
const iSquareVal = [10.53,14.02,16.04];
const iDownLam = [.381,.598,1.04,.905,1.463,1.73];
const iDownVal = [8.73,11.66,15.28,15.13,14.91,16];
const iOpenDownLam = [.41,.487,.913,1.349,1.6,1.971];
const iOpenDownVal = [12.05,13.07,15.46,15.78,15.13,15.76];
const iRightLam = [.828];
const iRightVal = [17.04];
const iUpLam = [.82];
const iUpVal = [14.11];
const iPentLam = [.519];
const iPentVal = [14.33];
const iPlusLam = [.968,.96,1.521];
const iPlusVal = [16.54,16.1,16.2];
const iStarLam = [1.521];
const iStarVal = [17.04];

// ---- Panel G data ----
const legendLeftNames = ['Basan et al., 2015','Bremer & Dennis, 2008','Brunschede et al., 1977','Dai et al., 2016','Erickson et al., 2017','Forchhammer & Lindahl, 1971','Li et al., 2014','Li et al., 2018','Mori et al., 2017','Schmidt et al., 2016','Scott et al., 2010','Wu et al., 2022','Young & Bremer, 1976','Si et al., 2017'];
const legendLeftTypes = ['circle','cross','square','circle','circle','down','diamond','right','star','circle','up','left','hexagon','down'];
const legendRightNames = ['You et al., 2013','Albertson & Nyström, 1994','Coffman et al., 1971','Dalbow & Young, 1975','Dennis & Bremer, 1974','Gausing, 1972','Hernandez & Bremer, 1993','Kepes & Beguin, 1966','Lacroute & Stent, 1968','Morris & Hansen, 1973','Pedersen, 1984','Schleif et al., 1973','Schleif, 1967','Zhu & Dai, 2019'];
const legendRightTypes = ['hexagon','up','square','plus','square','right','down','circle','pentagon','star','cross','down','left','hexagon'];
const legendLeftTones = ['mid','dark','dark','dark','mid','dark','dark','mid','dark','dark','dark','dark','dark','open'];
const legendRightTones = ['mid','open','light','dark','open','open','light','light','open','open','open','open','open','mid'];

const NS = 'http://www.w3.org/2000/svg';

// axis functions
const xD = v => 408.3 + v * 352.5;
const yD = v => 452.3 - v * 77.5;
const xE = v => 621.7 + v * 352.5;
const yE = v => 452.3 - v * 160.3;
const xH = v => 96.7 + v * 126;
const yH = v => 945.7 - v * 769;
const xI = v => 470.7 + v * 126;
const yI = v => 945.7 - (v - 5) * 15.38;

function create(parent, tag) {
  const el = document.createElementNS(NS, tag);
  parent.appendChild(el);
  return el;
}

function drawFrame(parent, rect, xTicks, xLabels, yTicks, yLabels, xf, yf, xLabelY, yLabelX) {
  const bg = create(parent, 'rect');
  
  
  bg.setAttribute('x', rect[0]); bg.setAttribute('y', rect[1]);
  bg.setAttribute('width', rect[2] - rect[0]); bg.setAttribute('height', rect[3] - rect[1]);
  bg.setAttribute('fill', '#eff3f9');
  xTicks.forEach((t, i) => {
    const g = create(parent, 'line');
    
    
    g.setAttribute('x1', xf(t)); g.setAttribute('x2', xf(t)); g.setAttribute('y1', rect[1]); g.setAttribute('y2', rect[3]);
    g.setAttribute('stroke', '#fff'); g.setAttribute('stroke-width', '.9');
    const tx = create(parent, 'text');
    
    
    tx.setAttribute('class', 'tick'); tx.setAttribute('x', xf(t)); tx.setAttribute('y', xLabelY); tx.setAttribute('text-anchor', 'middle');
    tx.textContent = xLabels[i];
  });
  yTicks.forEach((t, i) => {
    const g = create(parent, 'line');
    
    
    g.setAttribute('x1', rect[0]); g.setAttribute('x2', rect[2]); g.setAttribute('y1', yf(t)); g.setAttribute('y2', yf(t));
    g.setAttribute('stroke', '#fff'); g.setAttribute('stroke-width', '.9');
    const tx = create(parent, 'text');
    
    
    tx.setAttribute('class', 'tick'); tx.setAttribute('x', yLabelX); tx.setAttribute('y', yf(t) + 3.4); tx.setAttribute('text-anchor', 'end');
    tx.textContent = yLabels[i];
  });
}

function smoothPath(xs, ys, xf, yf) {
  const n = xs.length;
  const slopes = xs.map((_, i) => {
    if (n < 3) return (ys[n - 1] - ys[0]) / (xs[n - 1] - xs[0]);
    const a = Math.max(0, i - 1), b = Math.min(n - 1, i + 1);
    return (ys[b] - ys[a]) / (xs[b] - xs[a]);
  });
  let d = 'M' + xf(xs[0]).toFixed(2) + ' ' + yf(ys[0]).toFixed(2);
  for (let i = 0; i < n - 1; i++) {
    const h = (xs[i + 1] - xs[i]) / 3;
    d += 'C' + xf(xs[i] + h).toFixed(2) + ' ' + yf(ys[i] + slopes[i] * h).toFixed(2) + ' ' +
         xf(xs[i + 1] - h).toFixed(2) + ' ' + yf(ys[i + 1] - slopes[i + 1] * h).toFixed(2) + ' ' +
         xf(xs[i + 1]).toFixed(2) + ' ' + yf(ys[i + 1]).toFixed(2);
  }
  return d;
}

function drawCurve(parent, label, xs, ys, xf, yf, color, width) {
  const path = create(parent, 'path');
  
  
  path.setAttribute('d', smoothPath(xs, ys, xf, yf));
  path.setAttribute('fill', 'none');
  path.setAttribute('stroke', color);
  path.setAttribute('stroke-width', width);
  return path;
}

function markerPath(type, x, y, r) {
  const poly = pts => 'M' + pts.map(p => (x + p[0]).toFixed(2) + ' ' + (y + p[1]).toFixed(2)).join('L') + 'Z';
  const radial = (count, start, rad, alt) => {
    const pts = [];
    const steps = alt ? count * 2 : count;
    for (let i = 0; i < steps; i++) {
      const a = start + i * 2 * Math.PI / steps;
      const q = alt && i % 2 ? alt : rad;
      pts.push([q * Math.cos(a), q * Math.sin(a)]);
    }
    return pts;
  };
  const plusPts = k => [[-k, -r], [k, -r], [k, -k], [r, -k], [r, k], [k, k], [k, r], [-k, r], [-k, k], [-r, k], [-r, -k], [-k, -k]];
  switch (type) {
    case 'circle': return 'M' + (x - r) + ' ' + y + 'a' + r + ' ' + r + ' 0 1 0 ' + 2 * r + ' 0a' + r + ' ' + r + ' 0 1 0 ' + -2 * r + ' 0Z';
    case 'square': return poly([[-r, -r], [r, -r], [r, r], [-r, r]]);
    case 'diamond': return poly([[0, -r * 1.4], [r * .85, 0], [0, r * 1.4], [-r * .85, 0]]);
    case 'up': return poly([[0, -r * 1.1], [r * 1.1, r * .9], [-r * 1.1, r * .9]]);
    case 'down': return poly([[0, r * 1.1], [r * 1.1, -r * .9], [-r * 1.1, -r * .9]]);
    case 'left': return poly([[-r * 1.1, 0], [r * .9, -r * 1.1], [r * .9, r * 1.1]]);
    case 'right': return poly([[r * 1.1, 0], [-r * .9, -r * 1.1], [-r * .9, r * 1.1]]);
    case 'plus': return poly(plusPts(r * .38));
    case 'cross': return poly(plusPts(r * .38).map(p => [(p[0] - p[1]) * .75, (p[0] + p[1]) * .75]));
    case 'star': return poly(radial(5, -Math.PI / 2, r * 1.2, r * .5));
    case 'pentagon': return poly(radial(5, -Math.PI / 2, r * 1.1));
    case 'hexagon': return poly(radial(6, -Math.PI / 2, r * 1.1));
  }
  return '';
}

function markerFill(tone) {
  if (tone === 'dark') return ['#6a6a6a', '#555', .85];
  if (tone === 'mid') return ['#8c8c8c', '#666', .72];
  if (tone === 'light') return ['#d9dbde', '#777', .85];
  return ['#ffffff', '#6b6b6b', .5];
}

function drawScatter(parent, label, type, tone, xs, ys, xf, yf, r) {
  const style = markerFill(tone);
  xs.forEach((v, i) => {
    const mark = create(parent, 'path');
    
    
    mark.setAttribute('d', markerPath(type, xf(v), yf(ys[i]), r));
    mark.setAttribute('fill', style[0]);
    mark.setAttribute('fill-opacity', style[2]);
    mark.setAttribute('stroke', style[1]);
    mark.setAttribute('stroke-width', '.7');
  });
}

// Panel D
const colors = ['#2d1f50', '#38377f', '#3a5a9e', '#3a7caa', '#3596ae', '#39aaaa', '#4fbfa6', '#a6dfb8'];
const gD = document.getElementById('plotD');
drawFrame(gD, [403.3, 287, 571, 456.7], phiTicks, phiTickLabels, growthTicks, growthTickLabels, xD, yD, 466.7, 400);
[growth8, growth7, growth6, growth5, growth4, growth3, growth2, growth1].forEach((s, i) => {
  drawCurve(gD, 'growth-curve', phiRb, s, xD, yD, colors[7 - i], 1.5);
});

// Panel E
const gE = document.getElementById('plotE');
drawFrame(gE, [616.7, 287, 785, 456.7], phiTicks, phiTickLabels, transTicks, transTickLabels, xE, yE, 466.7, 613.3);
[trans8, trans7, trans6, trans5, trans4, trans3, trans2, trans1].forEach((s, i) => {
  drawCurve(gE, 'translation-curve', phiRb, s, xE, yE, colors[7 - i], 1.5);
});

// Panel G legend
const gG = document.getElementById('legendG');
function drawLegend(names, types, tones, markerX, textX, firstY) {
  names.forEach((name, i) => {
    const y = firstY + i * 11.47;
    const style = markerFill(tones[i]);
    const mark = create(gG, 'path');
    
    
    mark.setAttribute('d', markerPath(types[i], markerX, y - 3.2, 3));
    mark.setAttribute('fill', style[0]);
    mark.setAttribute('stroke', style[1]);
    mark.setAttribute('stroke-width', '.7');
    const label = create(gG, 'text');
    
    
    label.setAttribute('x', textX); label.setAttribute('y', y);
    label.setAttribute('font-size', '9.7'); label.setAttribute('fill', '#777');
    label.textContent = name;
  });
}
drawLegend(legendLeftNames, legendLeftTypes, legendLeftTones, 428.3, 437.3, 530.7);
drawLegend(legendRightNames, legendRightTypes, legendRightTones, 607.3, 617.3, 531.7);

// Panel H
const gH = document.getElementById('plotH');
drawFrame(gH, [91.7, 715, 386.7, 945.7], lamTicks, lamTickLabels, fracTicks, fracTickLabels, xH, yH, 955.7, 87.3);
drawCurve(gH, 'fixed-allocation-line', fixedLam, fixedFrac, xH, yH, '#404040', 2);
drawScatter(gH, 'si-2017-point', 'down', 'open', hOpenDownLam, hOpenDownFrac, xH, yH, 3.1);
drawScatter(gH, 'circle-data-point', 'circle', 'mid', hCircleLam, hCircleFrac, xH, yH, 3.3);
drawScatter(gH, 'square-data-point', 'square', 'dark', hSquareLam, hSquareFrac, xH, yH, 3);
drawScatter(gH, 'diamond-data-point', 'diamond', 'dark', hDiamondLam, hDiamondFrac, xH, yH, 3);
drawScatter(gH, 'right-triangle-point', 'right', 'mid', hRightLam, hRightFrac, xH, yH, 3.2);
drawScatter(gH, 'up-triangle-point', 'up', 'dark', hUpLam, hUpFrac, xH, yH, 3);
drawScatter(gH, 'cross-data-point', 'cross', 'dark', hCrossLam, hCrossFrac, xH, yH, 3);
drawScatter(gH, 'pentagon-data-point', 'pentagon', 'open', hPentLam, hPentFrac, xH, yH, 3);
drawCurve(gH, 'prioritized-translation-curve', prioritizedLam, prioritizedFrac, xH, yH, '#55b74f', 2.2);
drawCurve(gH, 'optimal-growth-curve', optimalLam, optimalFrac, xH, yH, '#2f74bd', 2.3);

// Panel I
const gI = document.getElementById('plotI');
drawFrame(gI, [465, 715, 760.7, 945.7], lamTicks, lamTickLabels, speedTicks, speedTickLabels, xI, yI, 955.7, 461);
drawCurve(gI, 'fixed-allocation-line', fixedSpeedLam, fixedSpeedVal, xI, yI, '#404040', 2);
drawCurve(gI, 'maximum-speed-line', maxSpeedLam, maxSpeedVal, xI, yI, '#55b74f', 2.2);
drawScatter(gI, 'circle-data-point', 'circle', 'mid', iCircleLam, iCircleVal, xI, yI, 3.3);
drawScatter(gI, 'open-circle-point', 'circle', 'light', iOpenCircleLam, iOpenCircleVal, xI, yI, 3.3);
drawScatter(gI, 'left-triangle-point', 'left', 'mid', iLeftLam, iLeftVal, xI, yI, 3.2);
drawScatter(gI, 'open-left-triangle-point', 'left', 'open', iOpenLeftLam, iOpenLeftVal, xI, yI, 3.1);
drawScatter(gI, 'cross-data-point', 'cross', 'dark', iCrossLam, iCrossVal, xI, yI, 3.1);
drawScatter(gI, 'pedersen-point', 'cross', 'open', iOpenCrossLam, iOpenCrossVal, xI, yI, 3.1);
drawScatter(gI, 'square-data-point', 'square', 'light', iSquareLam, iSquareVal, xI, yI, 3.2);
drawScatter(gI, 'down-triangle-point', 'down', 'mid', iDownLam, iDownVal, xI, yI, 3.2);
drawScatter(gI, 'light-down-triangle-point', 'down', 'light', iOpenDownLam, iOpenDownVal, xI, yI, 3.2);
drawScatter(gI, 'right-triangle-point', 'right', 'open', iRightLam, iRightVal, xI, yI, 3.1);
drawScatter(gI, 'up-triangle-point', 'up', 'open', iUpLam, iUpVal, xI, yI, 3.1);
drawScatter(gI, 'pentagon-data-point', 'pentagon', 'open', iPentLam, iPentVal, xI, yI, 3);
drawScatter(gI, 'plus-data-point', 'plus', 'mid', iPlusLam, iPlusVal, xI, yI, 3.2);
drawScatter(gI, 'star-data-point', 'star', 'open', iStarLam, iStarVal, xI, yI, 3.1);
drawCurve(gI, 'optimal-growth-curve', optSpeedLam, optSpeedVal, xI, yI, '#2f74bd', 2.3);
</script>
</body>
</html>
